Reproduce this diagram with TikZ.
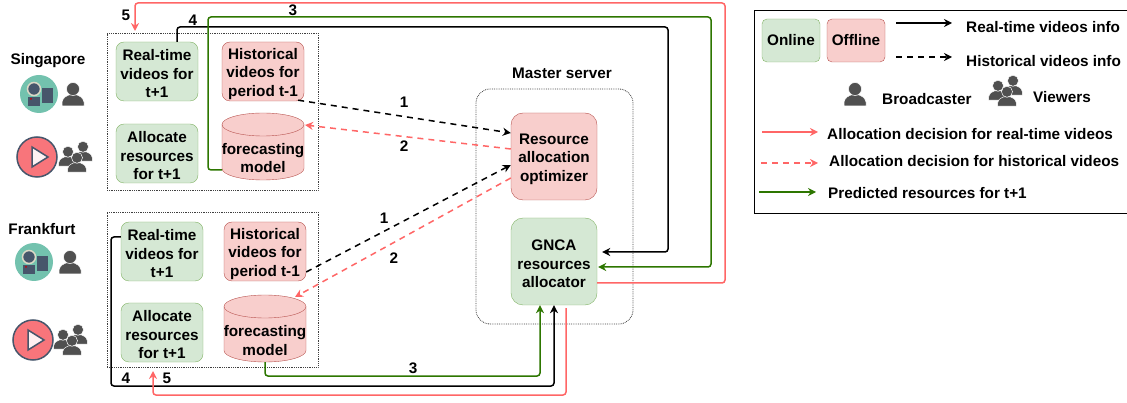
\documentclass[tikz,border=0pt]{standalone}
\usepackage{fontspec}
\setmainfont{Liberation Sans}
\usepackage{xcolor}
\usetikzlibrary{arrows.meta}
\definecolor{onfill}{HTML}{D5E8D4}
\definecolor{ondraw}{HTML}{82B366}
\definecolor{offfill}{HTML}{F8CECC}
\definecolor{offdraw}{HTML}{B85450}
\definecolor{redline}{HTML}{FF6666}
\definecolor{greenline}{HTML}{2D7600}
\definecolor{icongray}{HTML}{505050}
\definecolor{iconblue}{HTML}{47566B}
\definecolor{iconteal}{HTML}{73C2AE}
\definecolor{iconred}{HTML}{F8757B}
\definecolor{iconring}{HTML}{DDD9C6}
\newcommand{\modelbody}[1]{%
\filldraw[draw=offdraw,fill=offfill] ([yshift=11.5pt]#1.south west)
  arc[start angle=180,end angle=360,x radius=41pt,y radius=11.5pt]
  -- ([yshift=-11.5pt]#1.north east)
  arc[start angle=0,end angle=180,x radius=41pt,y radius=11.5pt] -- cycle;
\draw[draw=offdraw] ([yshift=-11.5pt]#1.north west)
  arc[start angle=180,end angle=360,x radius=41pt,y radius=11.5pt];
}
\newcommand{\lowered}{\rule{0pt}{15.5pt}}
\tikzset{
  txt/.style={font=\fontsize{15.3}{18.5}\selectfont\bfseries,align=center,inner sep=0pt},
  legtxt/.style={txt,anchor=west},
  online/.style={txt,draw=ondraw,fill=onfill,rounded corners=8,minimum width=82,minimum height=59},
  offline/.style={txt,draw=offdraw,fill=offfill,rounded corners=8,minimum width=82,minimum height=59},
  model/.style={minimum width=82,minimum height=67,inner sep=0pt,outer sep=0pt},
  region/.style={draw=black!75,densely dotted,line width=.8pt,inner sep=0pt},
  line/.style={line width=1.5pt,rounded corners=3},
  tip/.style={-{Stealth[length=8pt,width=8pt]}},
  blackline/.style={line,tip,draw=black},
  blackdash/.style={blackline,dash pattern=on 6pt off 5pt},
  redsolid/.style={line,tip,draw=redline},
  reddash/.style={redsolid,dash pattern=on 6pt off 5pt},
  greensolid/.style={line,tip,draw=greenline},
  person/.pic={
    \fill[icongray,draw=white,line width=.5pt] (-11,12) -- (-11,8) .. controls (-10,3) and (-6,2) .. (-4,1)
      -- (4,1) .. controls (6,2) and (10,3) .. (11,8) -- (11,12) -- cycle;
    \fill[icongray,draw=white,line width=.5pt] (0,-5) circle (6.5);
  },
  viewers/.pic={
    \pic[scale=.85] at (-8,-1) {person};
    \pic[scale=.85] at (7,-6) {person};
    \pic[scale=.85] at (1,5) {person};
  },
  camera/.pic={
    \fill[iconteal] (0,0) circle (19);
    \fill[iconblue] (3,-6) rectangle (14,9);
    \fill[iconblue] (-11,3) rectangle (1,12);
    \fill[red!80!black] (-8,5) circle (1);
    \filldraw[draw=iconring,fill=iconblue,line width=1.5pt] (-5,-5) circle (6.5);
  },
  play/.pic={
    \filldraw[fill=iconred,draw=iconblue,line width=1.5pt] (0,0) circle (20);
    \filldraw[fill=white!90!iconred,draw=iconblue,line width=1.5pt] (-5,-10) -- (11,0) -- (-5,10) -- cycle;
  },
}

\begin{document}
\begin{tikzpicture}[x=1pt,y=-1pt]
\useasboundingbox (0,0) rectangle (1127,403);
% regions
\node[region,minimum width=211,minimum height=157] (sgbox) at (212.5,111.5) {};
\node[region,minimum width=211,minimum height=155] (frbox) at (212.5,289.5) {};
\node[region,rounded corners=14,minimum width=157,minimum height=235] (master) at (554.5,206.5) {};
\node[txt] (mastertxt) at (562,73) {Master server};
% Singapore
\node[txt] (sgname) at (48,60.5) {Singapore};
\pic at (39,94) {camera};
\pic at (73,94) {person};
\pic at (37,157) {play};
\pic at (76,157) {viewers};
\node[online] (rtsg) at (157,71.5) {\lowered Real-time\\videos for\\t+1};
\node[offline] (hvsg) at (263,71.5) {\lowered Historical\\videos for\\period t-1};
\node[online] (arsg) at (157,153.5) {\lowered Allocate\\resources\\for t+1};
\node[model] (fmsg) at (263,146.5) {};
\modelbody{fmsg}
\node[txt] (fmsgtxt) at (263,158) {forecasting\\model};
% Frankfurt
\node[txt] (frname) at (42,229) {Frankfurt};
\pic at (34,262) {camera};
\pic at (70,262) {person};
\pic at (33,340) {play};
\pic at (71,340) {viewers};
\node[online] (rtfr) at (162,251.5) {\lowered Real-time\\videos for\\t+1};
\node[offline] (hvfr) at (265,251.5) {\lowered Historical\\videos for\\period t-1};
\node[online] (arfr) at (162,332.5) {\lowered Allocate\\resources\\for t+1};
\node[model] (fmfr) at (265,328.5) {};
\modelbody{fmfr}
\node[txt] (fmfrtxt) at (265,340.5) {forecasting\\model};
% master server
\node[offline,minimum width=86,minimum height=87,rounded corners=12] (optim) at (554,156.5) {\lowered Resource\\allocation\\optimizer};
\node[online,minimum width=86,minimum height=87,rounded corners=12] (gnca) at (554,261.5) {\lowered GNCA\\resources\\allocator};
% bends
\coordinate (blacktop) at (668,27);
\coordinate (greenleft) at (208,17);
\coordinate (greentop) at (711,17);
\coordinate (redtop) at (725,3);
\coordinate (redsgend) at (135,31);
\coordinate (blackbot) at (111,386);
\coordinate (greenbot) at (540,376);
\coordinate (redbot) at (566,395);
\coordinate (redfrend) at (153,371);
% top connectors
\draw[blackline,shorten >=5pt] ([xshift=20]rtsg.north) |- (blacktop) |- ([yshift=9.5]gnca.east);
\draw[greensolid,shorten >=1pt] ([yshift=-23.5]fmsg.west) -| (greenleft) -- (greentop) |- ([yshift=-5.5]gnca.east);
\draw[redsolid] ([yshift=-21.5]gnca.east) -| (redtop) -| (redsgend);
% bottom connectors
\draw[blackline] ([yshift=14.5]rtfr.west) -| (blackbot) -| (gnca.south);
\draw[greensolid] (fmfr.south) |- (greenbot) -- ([xshift=-14]gnca.south);
\draw[redsolid] ([xshift=12,yshift=-3]gnca.south) -- (redbot) -| (redfrend);
% dashed links
\draw[blackdash] ([xshift=-6,yshift=1]hvsg.south east) -- ([yshift=23.5]optim.west);
\draw[reddash] ([yshift=7.5]optim.west) -- ([xshift=1,yshift=21.5]fmsg.east);
\draw[blackdash] ([yshift=-20.5]hvfr.east) -- ([yshift=-8.5]optim.west);
\draw[reddash] ([yshift=-21.5]optim.west) -- ([xshift=30,yshift=-2]fmfr.north);
% numbers
\node[txt] (n1a) at (404,102) {1};
\node[txt] (n2a) at (404,146) {2};
\node[txt] (n1b) at (384,218) {1};
\node[txt] (n2b) at (394,258) {2};
\node[txt] (n3a) at (293,10) {3};
\node[txt] (n4a) at (193,20) {4};
\node[txt] (n5a) at (126,15) {5};
\node[txt] (n4b) at (126,378) {4};
\node[txt] (n5b) at (167,378) {5};
\node[txt] (n3b) at (413,368) {3};
% legend
\node[draw=black,line width=.8pt,minimum width=376,minimum height=203,inner sep=0pt] (legend) at (942,111.5) {};
\node[online,minimum width=58,minimum height=43,rounded corners=5] (legon) at (791,40.5) {Online};
\node[offline,minimum width=58,minimum height=43,rounded corners=5] (legoff) at (856,40.5) {Offline};
\node[legtxt] (legrt) at (966,27) {Real-time videos info};
\node[legtxt] (leghv) at (966,61) {Historical videos info};
\node[legtxt] (legbr) at (882,99) {Broadcaster};
\node[legtxt] (legvw) at (1033,97) {Viewers};
\node[legtxt] (legar) at (827,134) {Allocation decision for real-time videos};
\node[legtxt] (legah) at (829,161) {Allocation decision for historical videos};
\node[legtxt] (legpr) at (828,193) {Predicted resources for t+1};
\pic at (855,94) {person};
\pic at (1006,91) {viewers};
\draw[blackline] (896,23) -- (952,23);
\draw[blackdash] (896,57) -- (952,57);
\draw[redsolid] (762,132) -- (818,132);
\draw[reddash] (761,163) -- (818,163);
\draw[greensolid] (759,192) -- (816,192);
\end{tikzpicture}
\end{document}
